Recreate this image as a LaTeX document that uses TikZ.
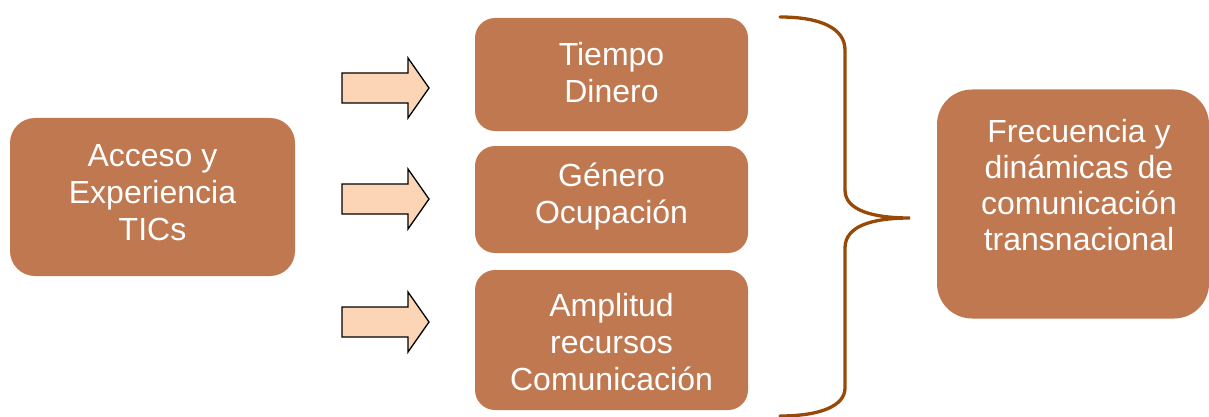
\documentclass[tikz,border=0pt]{standalone}
\usepackage{fontspec}
\setmainfont{Liberation Sans}
\definecolor{boxfill}{HTML}{BF7850}
\definecolor{arrowfill}{HTML}{FBD5B5}
\definecolor{bracecol}{HTML}{984807}
\begin{document}
\begin{tikzpicture}[x=1pt,y=-1pt,
  box/.style={draw=none,fill=boxfill,inner sep=0pt},
  lbl/.style={text=white,align=center,inner sep=0pt,font=\fontsize{32}{37}\selectfont},
  fatarrow/.style={draw=black,fill=arrowfill,line width=1.3pt,line join=miter}]
\useasboundingbox (0,0) rectangle (1209,417);
% boxes
\node[box,rounded corners=25pt,minimum width=285pt,minimum height=158pt] (acc) at (152.5,197) {};
\node[lbl] (acct) at (152.5,193) {Acceso y\\Experiencia\\TICs};
\node[box,rounded corners=20pt,minimum width=273pt,minimum height=113pt] (b1) at (611.5,74.5) {};
\node[lbl] (b1t) at (611.5,72.5) {Tiempo\\Dinero};
\node[box,rounded corners=20pt,minimum width=273pt,minimum height=107pt] (b2) at (611.5,199.5) {};
\node[lbl] (b2t) at (611.5,197) {Género\\Ocupación};
\node[box,rounded corners=20pt,minimum width=273pt,minimum height=140pt] (b3) at (611.5,340) {};
\node[lbl] (b3t) at (611.5,342) {Amplitud\\recursos\\Comunicación};
\node[box,rounded corners=35pt,minimum width=272pt,minimum height=229pt] (res) at (1073,204) {};
\node[lbl,font=\fontsize{32}{36}\selectfont] (rest) at (1079,185.5) {Frecuencia y\\dinámicas de\\comunicación\\transnacional};
% block arrows
\foreach \c in {88,199,322}{
  \draw[fatarrow] (342,\c-15) -- (408,\c-15) -- (408,\c-30) -- (429,\c)
    -- (408,\c+30) -- (408,\c+15) -- (342,\c+15) -- cycle;
}
% brace
\coordinate (bt) at (780,17);
\coordinate (bb) at (780,416);
\coordinate (tip) at (910,218);
\draw[bracecol,line width=3.3pt,line cap=round]
  (bt) .. controls (820,17) and (845,28) .. (845,50) -- (845,190)
  .. controls (845,210) and (872,218) .. (tip)
  .. controls (872,218) and (845,226) .. (845,248) -- (845,388)
  .. controls (845,406) and (820,416) .. (bb);
\end{tikzpicture}
\end{document}
